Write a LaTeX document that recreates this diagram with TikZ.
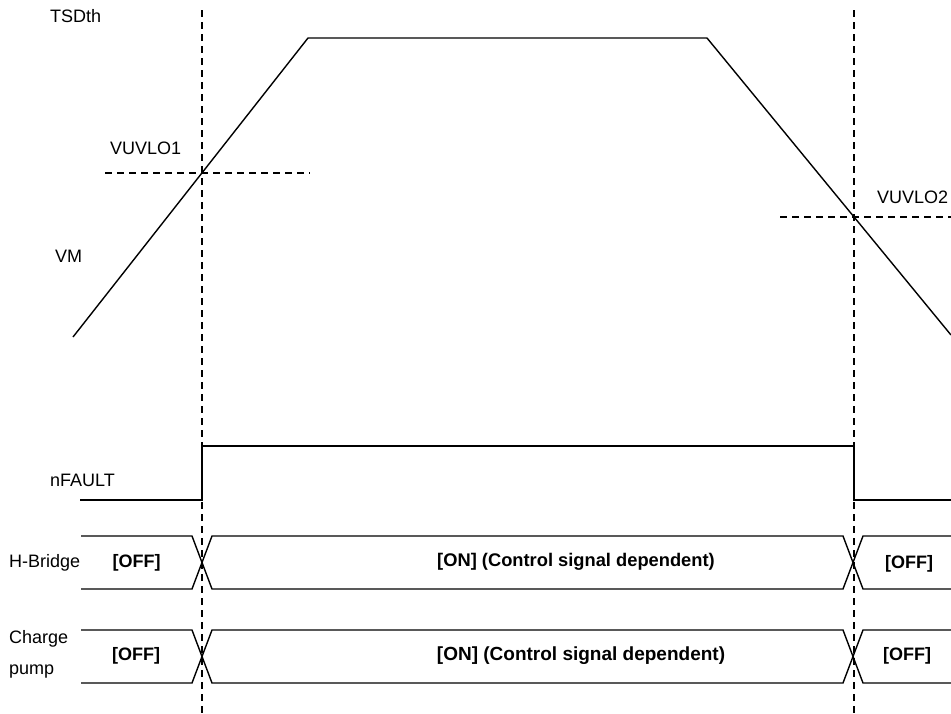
\documentclass[tikz,border=0pt]{standalone}
\usepackage{fontspec}
\setmainfont{Liberation Sans}
\begin{document}
\begin{tikzpicture}[x=1pt,y=-1pt,
  sig/.style={line width=1.4pt,line join=miter},
  guide/.style={line width=1.4pt,dash pattern=on 7pt off 5pt},
  lbl/.style={font=\fontsize{18}{21}\selectfont,inner sep=0pt},
  st/.style={font=\fontsize{18}{21}\selectfont\bfseries,inner sep=0pt}]
\useasboundingbox (0,0) rectangle (951,713);
% vertical guides
\draw[guide] (202,10) -- (202,713);
\draw[guide] (854,10) -- (854,713);
% threshold guides
\draw[guide] (105,173) -- (310,173);
\draw[guide] (780,217) -- (951,217);
% VM waveform
\draw[sig] (73,337) -- (308,38) -- (707,38) -- (951,335);
% nFAULT
\draw[sig] (80,500) -- (202,500) -- (202,446) -- (854,446) -- (854,500) -- (951,500);
\draw[line width=2pt] (597,446) -- (705,446);
% H-Bridge bus
\draw[sig] (81,536) -- (192,536) -- (212,589) -- (843,589) -- (863,536) -- (951,536);
\draw[sig] (81,589) -- (192,589) -- (212,536) -- (843,536) -- (863,589) -- (951,589);
% Charge pump bus
\draw[sig] (81,630) -- (192,630) -- (212,683) -- (843,683) -- (863,630) -- (951,630);
\draw[sig] (81,683) -- (192,683) -- (212,630) -- (843,630) -- (863,683) -- (951,683);
% labels
\node[lbl,anchor=west] (tsd) at (50,16) {TSDth};
\node[lbl,anchor=west] (uv1) at (110,148) {VUVLO1};
\node[lbl,anchor=west] (uv2) at (877,197) {VUVLO2};
\node[lbl,anchor=west] (vm) at (55,256) {VM};
\node[lbl,anchor=west] (nf) at (50,480) {nFAULT};
\node[lbl,anchor=west] (hb) at (9,563) {H-Bridge};
\node[lbl,anchor=west] (cp1) at (9,639) {Charge};
\node[lbl,anchor=west] (cp2) at (9,672) {pump};
\node[st] (hoff1) at (136.5,563) {[OFF]};
\node[st,font=\fontsize{18.3}{21}\selectfont\bfseries] (hon) at (576,562) {[ON] (Control signal dependent)};
\node[st] (hoff2) at (909,564) {[OFF]};
\node[st] (coff1) at (136,656) {[OFF]};
\node[st,font=\fontsize{19}{22}\selectfont\bfseries] (con) at (581,656) {[ON] (Control signal dependent)};
\node[st] (coff2) at (907,656) {[OFF]};
\end{tikzpicture}
\end{document}
